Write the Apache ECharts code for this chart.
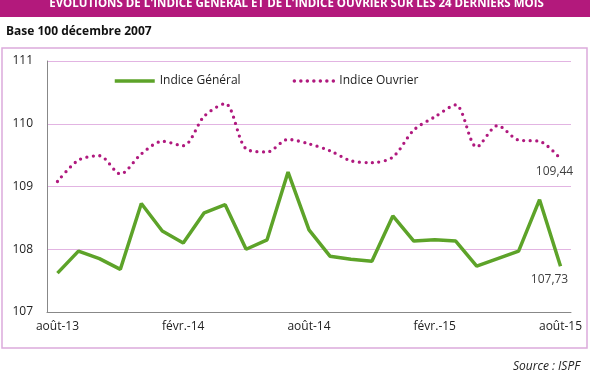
<!DOCTYPE html>
<html><head><meta charset="utf-8">
<script src="https://cdn.jsdelivr.net/npm/echarts@6/dist/echarts.min.js"></script>
<style>html,body{margin:0;padding:0;background:#fff}#c{width:600px;height:372px}</style>
</head><body><div id="c"></div>
<script>
const months = ["août-13","sept.-13","oct.-13","nov.-13","déc.-13","janv.-14","févr.-14","mars-14","avr.-14","mai-14","juin-14","juil.-14",
"août-14","sept.-14","oct.-14","nov.-14","déc.-14","janv.-15","févr.-15","mars-15","avr.-15","mai-15","juin-15","juil.-15","août-15"];
const indiceGeneral = [107.62,107.97,107.85,107.68,108.73,108.29,108.10,108.58,108.71,108.00,108.15,109.23,
108.31,107.89,107.84,107.81,108.53,108.13,108.15,108.13,107.73,107.85,107.97,108.79,107.73];
const indiceOuvrier = [109.08,109.42,109.49,109.20,109.52,109.72,109.65,110.12,110.32,109.60,109.55,109.75,
109.68,109.57,109.41,109.38,109.47,109.90,110.11,110.30,109.63,109.97,109.74,109.72,109.44];
const yTicks = [107,108,109,110,111];
const seriesNames = ["Indice Général","Indice Ouvrier"];
const titleText = "EVOLUTIONS DE L'INDICE GENERAL ET DE L'INDICE OUVRIER SUR LES 24 DERNIERS MOIS";
const subtitleText = "Base 100 décembre 2007";
const sourceText = "Source : ISPF";

const FONT = "'Open Sans', sans-serif";
function withLastLabel(arr, offset){
  return arr.map((v,i)=> i===arr.length-1 ? {value:v, symbol:'circle', symbolSize:0.01,
    label:{show:true, position:'bottom', distance:7, offset:offset,
    formatter: p => String(p.value).replace('.',','), color:'#404040', fontSize:12, fontFamily:FONT}} : v);
}
const chart = echarts.init(document.getElementById('c'));
chart.setOption({
  animation:false,
  graphic:[
    {type:'rect', shape:{x:0,y:0,width:590,height:17}, style:{fill:'#B3197C'}, silent:true},
    {type:'text', x:296.5, y:3.6, style:{text:titleText, fill:'#fff', font:"bold 11.5px "+FONT, textAlign:'center', textVerticalAlign:'middle'}},
    {type:'text', x:6, y:26, style:{text:subtitleText, fill:'#111', font:"bold 12px "+FONT}},
    {type:'rect', shape:{x:2,y:48,width:585,height:300}, style:{fill:'none', stroke:'#dcaadc', lineWidth:1.5}, silent:true},
    {type:'text', x:513, y:361, style:{text:sourceText, fill:'#222', font:"italic 12px "+FONT}}
  ],
  legend:{
    left:113, top:75, padding:0, itemWidth:40, itemHeight:14, itemGap:52,
    itemStyle:{opacity:0},
    lineStyle:{width:3.5},
    textStyle:{fontFamily:FONT, fontSize:12, color:'#222'},
    data:seriesNames
  },
  grid:{left:47, right:29, top:61, bottom:60},
  xAxis:{
    type:'category', data:months, boundaryGap:true,
    axisLine:{lineStyle:{color:'#888'}},
    axisTick:{interval:5, length:5, lineStyle:{color:'#888'}},
    axisLabel:{interval:5, fontFamily:FONT, fontSize:12, color:'#222', margin:9}
  },
  yAxis:{
    type:'value', min:yTicks[0], max:yTicks[yTicks.length-1], interval:1,
    axisLine:{show:true, lineStyle:{color:'#888'}},
    axisTick:{show:false},
    splitLine:{lineStyle:{color:'#e2b4e2'}},
    axisLabel:{fontFamily:FONT, fontSize:12, color:'#222', margin:14}
  },
  series:[
    {name:seriesNames[0], type:'line', data:withLastLabel(indiceGeneral,[-11,0]), symbol:'none',
     lineStyle:{color:'#5DA329', width:3.5}, itemStyle:{color:'#5DA329'}},
    {name:seriesNames[1], type:'line', data:withLastLabel(indiceOuvrier,[-6,0]), symbol:'none', smooth:0.3,
     lineStyle:{color:'#B0197E', width:3.3, type:[0,6.5], cap:'round'}, itemStyle:{color:'#B0197E'}}
  ]
});
</script></body></html>
